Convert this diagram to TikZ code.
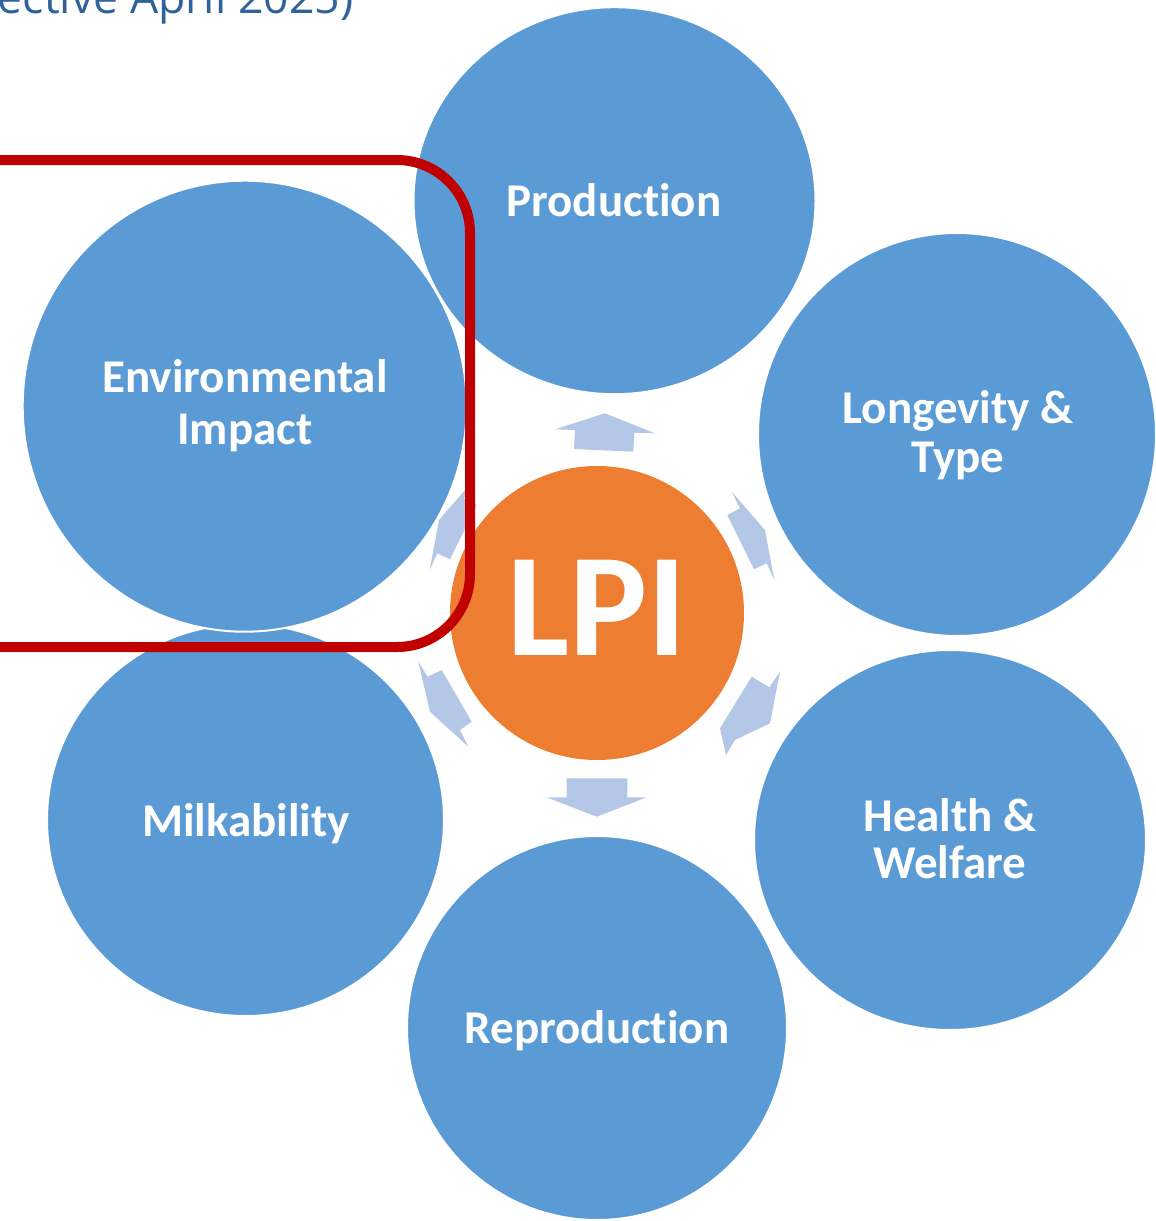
\documentclass[tikz,border=0pt]{standalone}
\usepackage{fontspec}
\setmainfont{Carlito}[Ligatures={NoCommon,NoContextual,NoRare}, Contextuals=NoAlternate]
\newfontfamily\headfont{Open Sans}
\usetikzlibrary{shapes.geometric}

\definecolor{bubbleblue}{RGB}{91,155,213}
\definecolor{huborange}{RGB}{237,125,49}
\definecolor{arrowblue}{RGB}{180,199,231}
\definecolor{frame}{RGB}{192,0,0}
\definecolor{headblue}{RGB}{47,98,155}

% keeps "t" and "i" as separate glyphs
\newcommand{\splitti}{t\kern0pt i}

\tikzset{
  bubble/.style={ellipse, fill=bubbleblue, draw=white, line width=2pt, inner sep=0pt},
  hub/.style={circle, fill=huborange, inner sep=0pt, minimum size=294pt},
  lbl/.style={anchor=base, inner sep=0pt, text=white,
              font=\bfseries\fontsize{47}{52}\selectfont},
  spoke/.style={fill=arrowblue, draw=none},
  highlight/.style={draw=frame, line width=10pt, rounded corners=73pt},
}

\begin{document}
\begin{tikzpicture}[x=1pt, y=-1pt]
\useasboundingbox (0,0) rectangle (1156,1221);
\clip (0,0) rectangle (1156,1221);

% outer bubbles
\node[bubble, minimum width=402pt, minimum height=387pt] (prod) at (614.5,200.7) {};
\node[bubble, minimum width=398pt, minimum height=403pt] (long) at (957,434.5) {};
\node[bubble, minimum width=392pt, minimum height=380pt] (health) at (950,840) {};
\node[bubble, minimum width=380pt, minimum height=384pt] (repro) at (597,1028) {};
\node[bubble, minimum width=397pt, minimum height=392pt] (milk) at (245.5,820) {};

% block arrows radiating from the hub
\fill[spoke] (605,413.3) -- (655,433.3) -- (634.3,432.7) -- (633.3,451.7) -- (574,449) -- (575,430) -- (555,429.3) -- cycle;
\fill[spoke] (566.7,778.3) -- (627.3,778.3) -- (627.3,797.3) -- (646.7,797.3) -- (596.7,816.7) -- (546.7,797.3) -- (566.7,797.3) -- cycle;
\fill[spoke] (731.7,491.7) -- (765,530) -- (774.3,580) -- (766.7,563.3) -- (754,569.3) -- (727.3,515) -- (740,508.3) -- cycle;
\fill[spoke] (751.7,676.7) -- (769.3,687.3) -- (780,671.7) -- (770,723.3) -- (735,740) -- (726,755) -- (720,728.3) -- cycle;
\fill[spoke] (418.3,661.7) -- (427.7,676.7) -- (441.7,670) -- (471.7,721.7) -- (460,730) -- (468.3,746.7) -- (430,711.7) -- cycle;
\fill[spoke] (472.3,481.7) -- (439,520) -- (429.7,570) -- (437.3,553.3) -- (450,559.3) -- (476.7,505) -- (464,498.3) -- cycle;

% hub
\node[hub] (lpi) at (597,613) {};
\node[anchor=base, inner sep=0pt, text=white, font=\bfseries\fontsize{147}{150}\selectfont] (lpitxt) at (597,655) {LPI};

% highlighted bubble
\node[bubble, minimum width=444pt, minimum height=451pt] (env) at (244.7,406.2) {};

% labels
\node[lbl] (prodtxt) at (614,216) {Produc\splitti on};
\node[lbl] (envtxt1) at (245,392.3) {Environmental};
\node[lbl] (envtxt2) at (245,444.3) {Impact};
\node[lbl] (longtxt1) at (958,423) {Longevity \&};
\node[lbl] (longtxt2) at (958,472) {Type};
\node[lbl] (healthtxt1) at (950,831) {Health \&};
\node[lbl] (healthtxt2) at (950,878) {Welfare};
\node[lbl] (milktxt) at (246,836) {Milkability};
\node[lbl] (reprotxt) at (597,1043) {Reproduc\splitti on};

% frame around the highlighted bubble
\draw[highlight] (-80,160) rectangle (470,647);

% heading fragment
\node[anchor=base east, inner sep=0pt, text=headblue, font=\headfont\fontsize{44.6}{50}\selectfont] (head) at (353.5,13.3) {ective April 2025)};
\end{tikzpicture}
\end{document}
